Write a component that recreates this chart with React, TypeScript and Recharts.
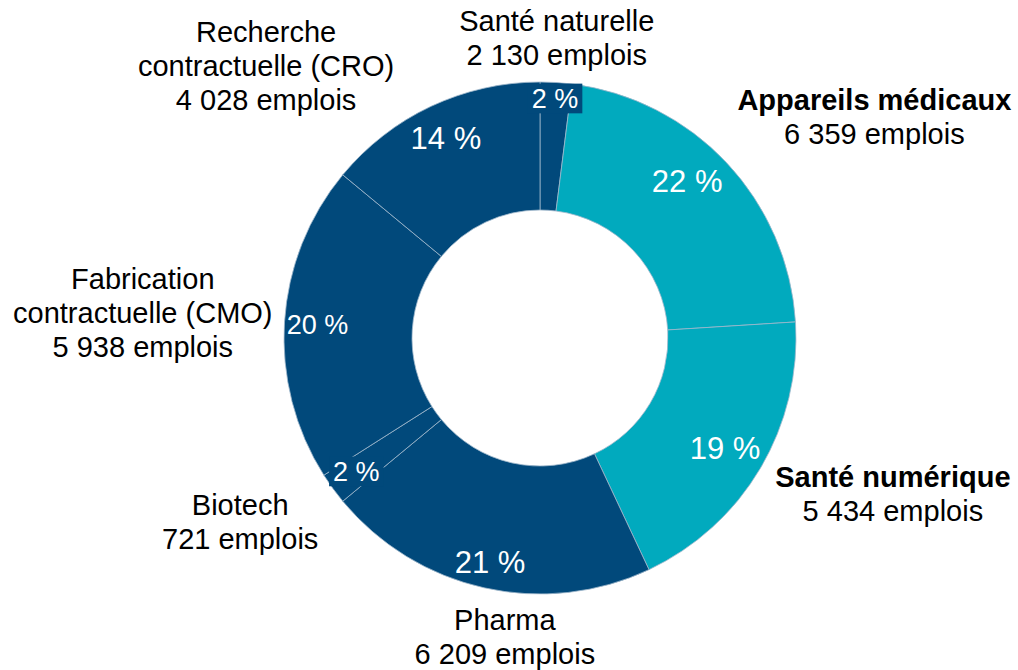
import { Cell, Pie, PieChart } from "recharts";

// secteurs, dans l'ordre horaire depuis midi
const sectors = [
	"Santé naturelle",
	"Appareils médicaux",
	"Santé numérique",
	"Pharma",
	"Biotech",
	"Fabrication contractuelle (CMO)",
	"Recherche contractuelle (CRO)",
];
const shares = [2, 22, 19, 21, 2, 20, 14];
const jobs = ["2 130", "6 359", "5 434", "6 209", "721", "5 938", "4 028"];
const nameLines = [
	["Santé naturelle"],
	["Appareils médicaux"],
	["Santé numérique"],
	["Pharma"],
	["Biotech"],
	["Fabrication", "contractuelle (CMO)"],
	["Recherche", "contractuelle (CRO)"],
];
const highlighted = [false, true, true, false, false, false, false];

const DARK = "#01497b";
const TEAL = "#01aabe";
const FONT = "'Liberation Sans', Arial, sans-serif";
const RADIAN = Math.PI / 180;

// placement des étiquettes (distance au centre, angle)
const pctRadius = [240, 215, 215, 229, 227, 223, 221];
const pctAngleShift = [0, 3.6, 0, 0, 0, 0, 0];
const pctSize = [27, 31, 31, 31, 27, 27, 31];
const pctBoxed = [true, false, false, false, true, false, false];
const outerDist = [300, 401, 386, 301, 352, 398, 386];
const outerAngle = [86.8, 33.5, -23.9, -96.7, -148.4, 176.4, 135.2];

const data = sectors.map((name, i) => ({
	name,
	share: shares[i],
	jobs: jobs[i],
	lines: nameLines[i],
	bold: highlighted[i],
}));

const LINE_H = 34;
const LABEL_FS = 29;

const renderLabel = (props: any) => {
	const { cx, cy, midAngle, index } = props;
	const a = (midAngle + pctAngleShift[index]) * RADIAN;
	const r = pctRadius[index];
	const px = cx + r * Math.cos(a);
	const py = cy - r * Math.sin(a);
	const fs = pctSize[index];
	const pctText = `${shares[index]} %`;
	const boxW = fs * 1.723 + 8;
	const boxH = fs * 1.1;

	const oa = outerAngle[index] * RADIAN;
	const ox = cx + outerDist[index] * Math.cos(oa);
	const oy = cy - outerDist[index] * Math.sin(oa);
	const lines = [...nameLines[index], `${jobs[index]} emplois`];
	const firstBase = oy - ((lines.length - 1) * LINE_H) / 2 + 10;

	return (
		<g key={`lbl-${index}`}>
			{pctBoxed[index] && (
				<rect
					x={px - boxW / 2}
					y={py - boxH / 2}
					width={boxW}
					height={boxH}
					fill={DARK}
				/>
			)}
			<text
				x={px}
				y={py + fs * 0.36}
				textAnchor="middle"
				fill="#ffffff"
				fontSize={fs}
				fontFamily={FONT}
			>
				{pctText}
			</text>
			<text
				x={ox}
				y={firstBase}
				textAnchor="middle"
				fill="#000000"
				fontSize={LABEL_FS}
				fontFamily={FONT}
			>
				{lines.map((t, k) => (
					<tspan
						key={k}
						x={ox}
						dy={k === 0 ? 0 : LINE_H}
						fontWeight={highlighted[index] && k < lines.length - 1 ? "bold" : "normal"}
					>
						{t}
					</tspan>
				))}
			</text>
		</g>
	);
};

export default function App() {
	return (
		<div style={{ position: "absolute", left: 0, top: 0, background: "#ffffff" }}>
			<PieChart width={1018} height={670} margin={{ top: 0, right: 0, bottom: 0, left: 0 }}>
				<Pie
					data={data}
					dataKey="share"
					nameKey="name"
					cx={540}
					cy={338}
					innerRadius={128}
					outerRadius={256}
					startAngle={90}
					endAngle={-270}
					stroke="#9fb8cc"
					strokeWidth={0.8}
					label={renderLabel}
					labelLine={false}
					isAnimationActive={false}
				>
					{data.map((entry, i) => (
						<Cell key={entry.name} fill={highlighted[i] ? TEAL : DARK} />
					))}
				</Pie>
			</PieChart>
		</div>
	);
}
